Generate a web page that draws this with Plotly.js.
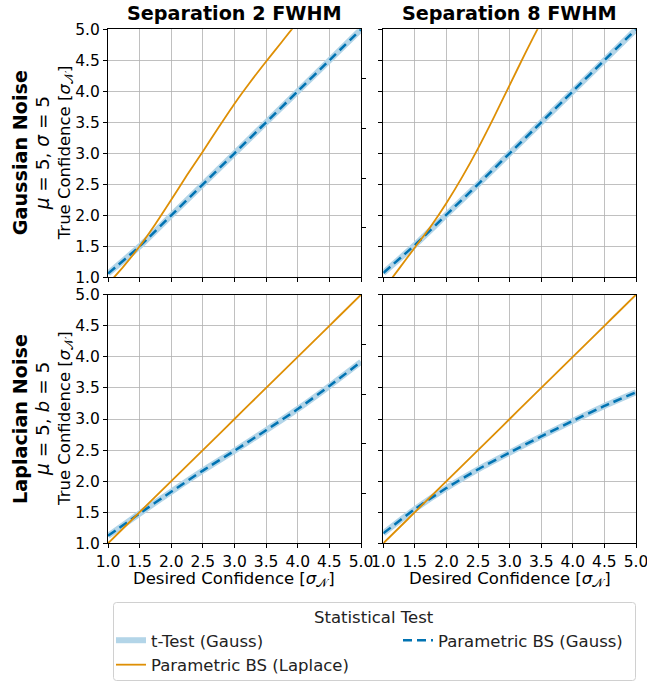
<!DOCTYPE html>
<html>
<head>
<meta charset="utf-8">
<script src="https://cdn.plot.ly/plotly-3.0.1.min.js"></script>
<style>html,body{margin:0;padding:0;background:#fff;}#chart{width:647px;height:683px;}</style>
</head>
<body>
<div id="chart"></div>
<script>
// ---- data ----
const colTitles = ["Separation 2 FWHM", "Separation 8 FWHM"];
const rowTitles = ["Gaussian Noise", "Laplacian Noise"];
const rowParams = ["<i>μ</i> = 5, <i>σ</i> = 5", "<i>μ</i> = 5, <i>b</i> = 5"];
const legendTitle = "Statistical Test";
const seriesNames = ["t-Test (Gauss)", "Parametric BS (Gauss)", "Parametric BS (Laplace)"];
const tickVals = [1.0, 1.5, 2.0, 2.5, 3.0, 3.5, 4.0, 4.5, 5.0];

// x grid for Gaussian-based tests
const xGauss = [1.0, 1.5, 2.0, 2.5, 3.0, 3.5, 4.0, 4.5, 5.0];
// x grid for Laplace-based parametric BS
const xLap = [1.0, 1.25, 1.5, 1.75, 2.0, 2.25, 2.5, 2.75, 3.0, 3.25, 3.5, 3.75, 4.0, 4.25, 4.5, 4.75, 5.0];

// Gaussian noise, separation 2
const tTest_G2   = [1.06, 1.50, 2.00, 2.50, 3.00, 3.50, 4.00, 4.50, 5.00];
const bsGauss_G2 = [1.06, 1.50, 2.00, 2.50, 3.00, 3.50, 4.00, 4.50, 5.00];
const bsLap_G2   = [0.89, 1.18, 1.50, 1.86, 2.25, 2.65, 3.03, 3.42, 3.80, 4.15, 4.48, 4.80, 5.12, 5.42, 5.72, 6.02, 6.30];
// Gaussian noise, separation 8
const tTest_G8   = [1.07, 1.52, 2.01, 2.50, 3.00, 3.50, 4.00, 4.50, 5.00];
const bsGauss_G8 = [1.07, 1.52, 2.01, 2.50, 3.00, 3.50, 4.00, 4.50, 5.00];
const bsLap_G8   = [0.80, 1.14, 1.48, 1.82, 2.20, 2.62, 3.08, 3.58, 4.10, 4.62, 5.12, 5.60, 6.05, 6.50, 6.95, 7.40, 7.85];
// Laplacian noise, separation 2
const tTest_L2   = [1.12, 1.48, 1.83, 2.17, 2.49, 2.82, 3.16, 3.53, 3.92];
const bsGauss_L2 = [1.12, 1.48, 1.83, 2.17, 2.49, 2.82, 3.16, 3.53, 3.92];
const bsLap_L2   = [1.00, 1.25, 1.50, 1.75, 2.00, 2.25, 2.50, 2.75, 3.00, 3.25, 3.50, 3.75, 4.00, 4.25, 4.50, 4.75, 5.00];
// Laplacian noise, separation 8
const tTest_L8   = [1.16, 1.55, 1.89, 2.19, 2.46, 2.72, 2.97, 3.21, 3.43];
const bsGauss_L8 = [1.16, 1.55, 1.89, 2.19, 2.46, 2.72, 2.97, 3.21, 3.43];
const bsLap_L8   = [1.00, 1.25, 1.50, 1.75, 2.00, 2.25, 2.50, 2.75, 3.00, 3.25, 3.50, 3.75, 4.00, 4.25, 4.50, 4.75, 5.00];

// ---- styling ----
const W = 647, H = 683;
const lightBlue = "#b3d5e8", darkBlue = "#0173b2", orange = "#de8f05";
const FONT = "DejaVu Sans, sans-serif";

const panels = [
  {t: tTest_G2, g: bsGauss_G2, l: bsLap_G2, xa: "x",  ya: "y"},
  {t: tTest_G8, g: bsGauss_G8, l: bsLap_G8, xa: "x2", ya: "y2"},
  {t: tTest_L2, g: bsGauss_L2, l: bsLap_L2, xa: "x3", ya: "y3"},
  {t: tTest_L8, g: bsGauss_L8, l: bsLap_L8, xa: "x4", ya: "y4"}
];

const traces = [];
panels.forEach((p, i) => {
  const first = i === 0;
  traces.push({x: xGauss, y: p.t, xaxis: p.xa, yaxis: p.ya, mode: "lines", name: seriesNames[0],
    line: {color: lightBlue, width: 6, shape: "spline", smoothing: 0.6}, showlegend: first, legendrank: 1});
  traces.push({x: xGauss, y: p.g, xaxis: p.xa, yaxis: p.ya, mode: "lines", name: seriesNames[1],
    line: {color: darkBlue, width: 2.5, dash: "9px,5px", shape: "spline", smoothing: 0.6}, showlegend: first, legendrank: 2});
  traces.push({x: xLap, y: p.l, xaxis: p.xa, yaxis: p.ya, mode: "lines", name: seriesNames[2],
    line: {color: orange, width: 1.8, shape: "spline", smoothing: 0.6}, showlegend: first, legendrank: 3});
});
// dummy traces for the auxiliary right-side tick axes
traces.push({x: [0], y: [0], xaxis: "x", yaxis: "y5", mode: "lines", showlegend: false, hoverinfo: "skip", line: {width: 0}});
traces.push({x: [0], y: [0], xaxis: "x3", yaxis: "y6", mode: "lines", showlegend: false, hoverinfo: "skip", line: {width: 0}});

const colDom = [[108 / W, 361 / W], [383.3 / W, 636 / W]];
const rowDom = [[(H - 277.3) / H, (H - 29.3) / H], [(H - 543.3) / H, (H - 294.7) / H]];
const TICKSIZE = 15.5;

function xAxis(col, labels) {
  return {domain: colDom[col], range: [1, 5], tickvals: tickVals, ticktext: tickVals.map(v => v.toFixed(1)),
    showticklabels: labels, ticks: "outside", ticklen: 4, tickcolor: "#000", tickwidth: 1,
    showgrid: true, gridcolor: "#b0b0b0", gridwidth: 0.8, zeroline: false, automargin: false,
    ticklabeloverflow: "allow",
    showline: true, linecolor: "#000", linewidth: 1, mirror: true,
    tickfont: {size: TICKSIZE, color: "#000", family: FONT}};
}
function yAxis(row, labels) {
  return {domain: rowDom[row], range: [1, 5], tickvals: tickVals, ticktext: tickVals.map(v => v.toFixed(1)),
    showticklabels: labels, ticks: "outside", ticklen: 4, tickcolor: "#000", tickwidth: 1,
    showgrid: true, gridcolor: "#b0b0b0", gridwidth: 0.8, zeroline: false, automargin: false,
    ticklabeloverflow: "allow",
    showline: true, linecolor: "#000", linewidth: 1, mirror: true,
    tickfont: {size: TICKSIZE, color: "#000", family: FONT}};
}
function auxAxis(over, anchor) {
  return {overlaying: over, side: "right", anchor: anchor, range: [0, 1], tickvals: [0.2, 0.4, 0.6, 0.8],
    ticks: "outside", ticklen: 4, tickcolor: "#000", showticklabels: false, showgrid: false,
    zeroline: false, showline: false, automargin: false};
}

const layout = {
  width: W, height: H,
  margin: {l: 0, r: 0, t: 0, b: 0, autoexpand: false},
  paper_bgcolor: "#fff", plot_bgcolor: "#fff",
  font: {family: FONT, color: "#000"},
  xaxis:  Object.assign(xAxis(0, false), {anchor: "y"}),
  yaxis:  Object.assign(yAxis(0, true),  {anchor: "x"}),
  xaxis2: Object.assign(xAxis(1, false), {anchor: "y2"}),
  yaxis2: Object.assign(yAxis(0, false), {anchor: "x2"}),
  xaxis3: Object.assign(xAxis(0, true),  {anchor: "y3"}),
  yaxis3: Object.assign(yAxis(1, true),  {anchor: "x3"}),
  xaxis4: Object.assign(xAxis(1, true),  {anchor: "y4"}),
  yaxis4: Object.assign(yAxis(1, false), {anchor: "x4"}),
  yaxis5: auxAxis("y", "x"),
  yaxis6: auxAxis("y3", "x3"),
  showlegend: true,
  legend: {
    orientation: "h", x: 111 / W, xanchor: "left", y: (H - 623) / H, yanchor: "top",
    entrywidth: 242, entrywidthmode: "pixels",
    font: {size: 16.5, family: FONT, color: "#222"},
    borderwidth: 0, bgcolor: "rgba(0,0,0,0)",
    traceorder: "normal", tracegroupgap: 0
  },
  shapes: [{
    type: "path", xref: "paper", yref: "paper", layer: "below",
    path: (function () {
      const x0 = 113.5, x1 = 635.5, y0 = 602.5, y1 = 680.5, r = 3;
      const X = v => (v / W).toFixed(5), Y = v => ((H - v) / H).toFixed(5);
      return "M" + X(x0 + r) + "," + Y(y0) + " L" + X(x1 - r) + "," + Y(y0) +
        " Q" + X(x1) + "," + Y(y0) + " " + X(x1) + "," + Y(y0 + r) +
        " L" + X(x1) + "," + Y(y1 - r) + " Q" + X(x1) + "," + Y(y1) + " " + X(x1 - r) + "," + Y(y1) +
        " L" + X(x0 + r) + "," + Y(y1) + " Q" + X(x0) + "," + Y(y1) + " " + X(x0) + "," + Y(y1 - r) +
        " L" + X(x0) + "," + Y(y0 + r) + " Q" + X(x0) + "," + Y(y0) + " " + X(x0 + r) + "," + Y(y0) + " Z";
    })(),
    line: {color: "#d0d0d0", width: 1}, fillcolor: "#fff"
  }],
  annotations: []
};

// legend title
layout.annotations.push({text: legendTitle, x: 374 / W, y: (H - 617) / H, xref: "paper", yref: "paper",
  xanchor: "center", yanchor: "middle", showarrow: false, font: {size: 16.5, family: FONT, color: "#222"}});
// column titles
const colCenters = [234.5, 509.6];
colTitles.forEach((t, i) => layout.annotations.push({
  text: "<b>" + t + "</b>", x: colCenters[i] / W, y: (H - 14) / H, xref: "paper", yref: "paper",
  xanchor: "center", yanchor: "middle", showarrow: false, font: {size: 19.2, family: FONT, color: "#000"}
}));
// row labels
const rowCenters = [153.3, 419];
rowTitles.forEach((t, i) => {
  const yc = (H - rowCenters[i]) / H;
  layout.annotations.push({text: "<b>" + t + "</b>", x: 20 / W, y: yc, xref: "paper", yref: "paper",
    xanchor: "center", yanchor: "middle", textangle: -90, showarrow: false, font: {size: 19.2, family: FONT, color: "#000"}});
  layout.annotations.push({text: rowParams[i], x: 42 / W, y: yc, xref: "paper", yref: "paper",
    xanchor: "center", yanchor: "middle", textangle: -90, showarrow: false, font: {size: 18.5, family: FONT, color: "#000"}});
  layout.annotations.push({text: "True Confidence [<i>σ</i><sub>𝒩</sub>]", x: 65 / W, y: yc, xref: "paper", yref: "paper",
    xanchor: "center", yanchor: "middle", textangle: -90, showarrow: false, font: {size: 16.5, family: FONT, color: "#000"}});
});
// x axis titles
colCenters.forEach(c => layout.annotations.push({
  text: "Desired Confidence [<i>σ</i><sub>𝒩</sub>]", x: c / W, y: (H - 579) / H, xref: "paper", yref: "paper",
  xanchor: "center", yanchor: "middle", showarrow: false, font: {size: 16.5, family: FONT, color: "#000"}
}));

Plotly.newPlot("chart", traces, layout, {displayModeBar: false, staticPlot: true});
</script>
</body>
</html>
